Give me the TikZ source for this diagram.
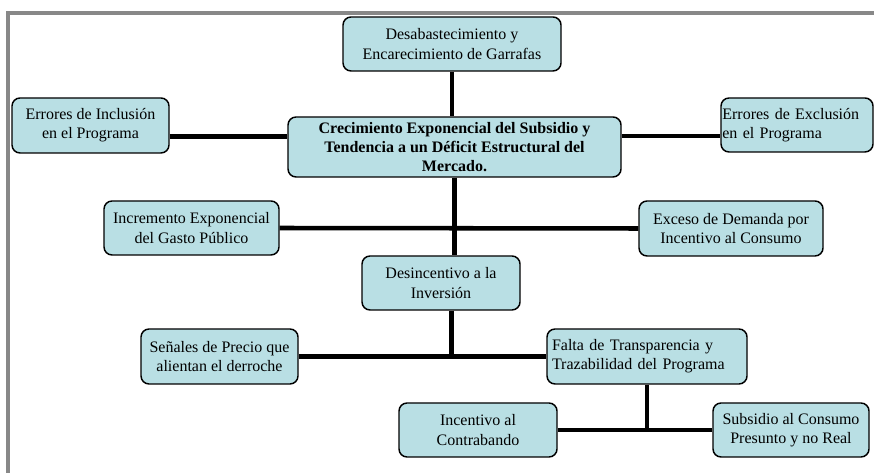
\documentclass[tikz,border=0pt]{standalone}
\usepackage{fontspec}
\setmainfont{Liberation Serif}
\usepackage{tikz}
\usetikzlibrary{calc}
\definecolor{boxfill}{RGB}{185,223,228}
\definecolor{framegray}{RGB}{136,136,136}
\tikzstyle{box} = [rectangle, rounded corners=6pt, draw, line width=1.1pt, fill=boxfill, align=center, inner sep=2pt, font=\fontsize{12pt}{14.5pt}\selectfont]
\tikzstyle{link} = [line width=3.4pt]

\begin{document}
\begin{tikzpicture}[x=0.75pt, y=-0.75pt]
  \useasboundingbox (0,0) rectangle (874,473);
  \draw [framegray, line width=3pt] (7.5,473) -- (7.5,13) -- (874,13);

  \node (desab) [box, minimum width=163.5pt, minimum height=40.5pt] at (452,44) {Desabastecimiento y\\Encarecimiento de Garrafas};
  \node (inclu) [box, minimum width=117.75pt, minimum height=41.25pt] at (90.5,125.5) {Errores de Inclusión\\en el Programa};
  \node (crec) [box, minimum width=249.75pt, minimum height=45pt, font=\fontsize{12pt}{14.5pt}\selectfont\bfseries] at (454.5,147) {Crecimiento Exponencial del Subsidio y\\Tendencia a un Déficit Estructural del\\Mercado.};
  \node (exclu) [box, align=left, text width=112pt, inner xsep=1pt, minimum height=40.5pt] at (797,125) {Errores de Exclusión\\en el Programa};
  \node (incre) [box, minimum width=131.25pt, minimum height=40.5pt] at (191.5,228) {Incremento Exponencial\\del Gasto Público};
  \node (exceso) [box, minimum width=138pt, minimum height=41.25pt] at (731,228.5) {Exceso de Demanda por\\Incentivo al Consumo};
  \node (desinc) [box, minimum width=118.5pt, minimum height=40.5pt] at (441,283) {Desincentivo a la\\Inversión};
  \node (senal) [box, minimum width=117.75pt, minimum height=41.25pt] at (219.5,356.5) {Señales de Precio que\\alientan el derroche};
  \node (falta) [box, align=left, text width=142.5pt, inner xsep=3.75pt, minimum height=41.25pt] at (647,356.5) {Falta de Transparencia y\\Trazabilidad del Programa};
  \node (contra) [box, minimum width=118.5pt, minimum height=40.5pt] at (478,430) {Incentivo al\\Contrabando};
  \node (subsi) [box, minimum width=117pt, minimum height=40.5pt] at (791,430) {Subsidio al Consumo\\Presunto y no Real};

  \coordinate (lj) at ($(inclu.east)!0.5!(crec.west)$);
  \coordinate (rj) at ($(exclu.west)!0.5!(crec.east)$);

  \draw [link] (desab.south) -- (desab.south |- crec.north);
  \draw [link] (inclu.east |- lj) -- (crec.west |- lj);
  \draw [link] (crec.east |- rj) -- (exclu.west |- rj);
  \draw [link] (crec.south) -- (crec.south |- desinc.north);
  \draw [link] (incre.east) -- (exceso.west);
  \draw [link] ([xshift=8pt]desinc.south) -- ([xshift=8pt]desinc.south |- senal.east);
  \draw [link] (senal.east) -- (falta.west);
  \draw [link] (falta.south) -- (falta.south |- contra.east);
  \draw [link] (contra.east) -- (subsi.west);
\end{tikzpicture}
\end{document}
